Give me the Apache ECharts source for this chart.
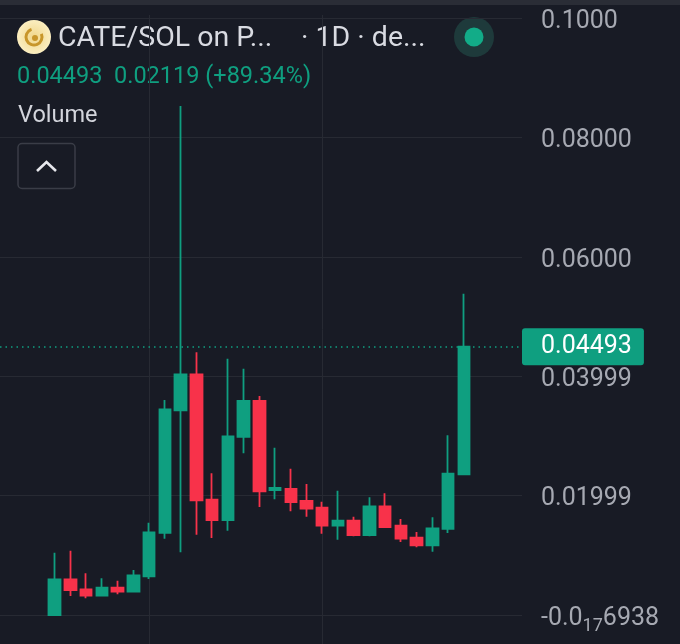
<!DOCTYPE html>
<html>
<head>
<meta charset="utf-8">
<style>html,body{margin:0;padding:0;background:#181b25}#c{width:680px;height:644px}</style>
<script src="https://cdn.jsdelivr.net/npm/echarts@6/dist/echarts.min.js"></script>
</head>
<body>
<div id="c"></div>
<script>
const opens  = [0,.00598,.00430,.00323,.00458,.00391,.00648,.01374,.03428,.04031,.01932,.01591,.02982,.03585,.02094,.02111,.01910,.01797,.01496,.01580,.01340,.01821,.01496,.01295,.01167,.01441,.02357];
const closes = [.00598,.00419,.00323,.00458,.00391,.00665,.01385,.03445,.04031,.01921,.01591,.02993,.03585,.02072,.02127,.01893,.01781,.01496,.01580,.01340,.01821,.01474,.01278,.01167,.01452,.02367,.04493];
const lows   = [0,.00318,.00280,.00323,.00346,.00391,.00603,.01279,.01050,.01345,.01290,.01412,.02709,.01809,.01938,.01737,.01647,.01362,.01261,.01318,.01318,.01462,.01223,.01134,.01060,.01374,.02357];
const highs  = [.01044,.01077,.00698,.00615,.00575,.00754,.01547,.03601,.08526,.04400,.02373,.04293,.04126,.03668,.02802,.02451,.02194,.01898,.02082,.01647,.01972,.02038,.01608,.01390,.01636,.03010,.05382];
const tickLabels = ['{a|-0.0}{s|17}{a|6938}','0.01999','0.03999','0.06000','0.08000','0.1000'];
const lastPrice = 0.04493;
const padBefore = 4, padAfter = 4;
const verticalAt = [6, 17];

const candleData = [];
for (let i = 0; i < padBefore; i++) candleData.push(['-','-','-','-']);
opens.forEach((o, i) => candleData.push([o, closes[i], lows[i], highs[i]]));
for (let i = 0; i < padAfter; i++) candleData.push(['-','-','-','-']);
const cats = candleData.map((_, i) => 'd' + i);

const GREEN = '#0f9f80', RED = '#f8324a', GRID = '#272a33';
const option = {
  animation: false,
  backgroundColor: '#181b25',
  grid: [
    {left: 0, width: 522, top: 18, height: 597, outerBoundsMode: 'none'},
    {left: -8.3, width: 535.16, top: 15, height: 629, outerBoundsMode: 'none'}
  ],
  xAxis: [
    {gridIndex: 0, type: 'category', data: [''], show: false},
    {gridIndex: 1, type: 'category', data: cats, boundaryGap: false,
     axisLine: {show: false}, axisTick: {show: false}, axisLabel: {show: false},
     splitLine: {show: true, lineStyle: {color: GRID, width: 1},
       interval: (i) => verticalAt.includes(i - padBefore)}}
  ],
  yAxis: [
    {gridIndex: 0, type: 'value', position: 'right', min: 0, max: 0.1, interval: 0.02,
     axisLine: {show: false}, axisTick: {show: false},
     splitLine: {lineStyle: {color: GRID, width: 1}},
     axisLabel: {margin: 19, color: '#a6a9b2', fontFamily: 'Roboto', fontSize: 25, padding: [7, 0, 0, 0],
       formatter: (v) => tickLabels[Math.round(v / 0.02)],
       rich: {a: {color: '#a6a9b2', fontFamily: 'Roboto', fontSize: 25},
              s: {color: '#a6a9b2', fontFamily: 'Roboto', fontSize: 18, padding: [15, 0, 0, 0]}}}},
    {gridIndex: 1, type: 'value', min: -29 / 5970, max: 600 / 5970, show: false}
  ],
  series: [
    {type: 'line', xAxisIndex: 0, yAxisIndex: 0, data: [], symbol: 'none', silent: true, z: 8,
     markLine: {silent: true, symbol: 'none', animation: false, precision: 5,
       lineStyle: {color: GREEN, type: [1.5, 4], width: 1.5},
       label: {show: true, position: 'end', distance: 0, formatter: '0.04493',
         color: '#ffffff', fontFamily: 'Roboto', fontSize: 25,
         backgroundColor: GREEN, borderRadius: 3, padding: [7, 12, 5, 19]},
       data: [{yAxis: lastPrice}]}},
    {type: 'candlestick', xAxisIndex: 1, yAxisIndex: 1, data: candleData, barWidth: 12, z: 5,
     itemStyle: {color: GREEN, color0: RED, borderColor: GREEN, borderColor0: RED, borderWidth: 1.8}}
  ],
  graphic: [
    {type: 'rect', silent: true, shape: {x: 0, y: 0, width: 680, height: 5}, style: {fill: '#2a2d36'}},
    {type: 'circle', silent: true, shape: {cx: 34, cy: 37, r: 17},
     style: {fill: {type: 'radial', x: .5, y: .5, r: .5, colorStops: [{offset: 0, color: '#f0d68a'}, {offset: 1, color: '#fbeec0'}]}}},
    {type: 'arc', silent: true, shape: {cx: 34, cy: 37, r: 8, startAngle: -0.4, endAngle: 4.4},
     style: {stroke: '#c8962a', lineWidth: 3, fill: 'none'}},
    {type: 'circle', silent: true, shape: {cx: 35, cy: 38, r: 3}, style: {fill: '#c8962a'}},
    {type: 'text', silent: true, x: 58, y: 39, style: {text: 'CATE/SOL on P...', fontFamily: 'Roboto', fontSize: 28.5, fill: '#d9dbe2', verticalAlign: 'middle'}},
    {type: 'text', silent: true, x: 301, y: 39, style: {text: '· 1D · de...', fontFamily: 'Roboto', fontSize: 28.5, fill: '#d9dbe2', verticalAlign: 'middle'}},
    {type: 'circle', silent: true, shape: {cx: 474, cy: 37, r: 20}, style: {fill: '#1e3a3b'}},
    {type: 'circle', silent: true, shape: {cx: 474, cy: 37, r: 9.5}, style: {fill: '#12ac88'}},
    {type: 'text', silent: true, x: 17, y: 77, style: {text: '0.04493', fontFamily: 'Roboto', fontSize: 23.5, fill: GREEN, verticalAlign: 'middle'}},
    {type: 'text', silent: true, x: 114, y: 77, style: {text: '0.02119 (+89.34%)', fontFamily: 'Roboto', fontSize: 23.5, fill: GREEN, verticalAlign: 'middle'}},
    {type: 'text', silent: true, x: 18, y: 116, style: {text: 'Volume', fontFamily: 'Roboto', fontSize: 23.5, fill: '#d3d5dc', verticalAlign: 'middle'}},
    {type: 'rect', silent: true, shape: {x: 18, y: 143.5, width: 57, height: 45, r: 4}, style: {fill: 'none', stroke: '#3a3d47', lineWidth: 1.5}},
    {type: 'polyline', silent: true, shape: {points: [[37, 171], [46.5, 162], [56, 171]]}, style: {fill: 'none', stroke: '#e6e7ec', lineWidth: 2.6}}
  ]
};
const chart = echarts.init(document.getElementById('c'), null, {renderer: 'canvas'});
chart.setOption(option);
</script>
</body>
</html>
